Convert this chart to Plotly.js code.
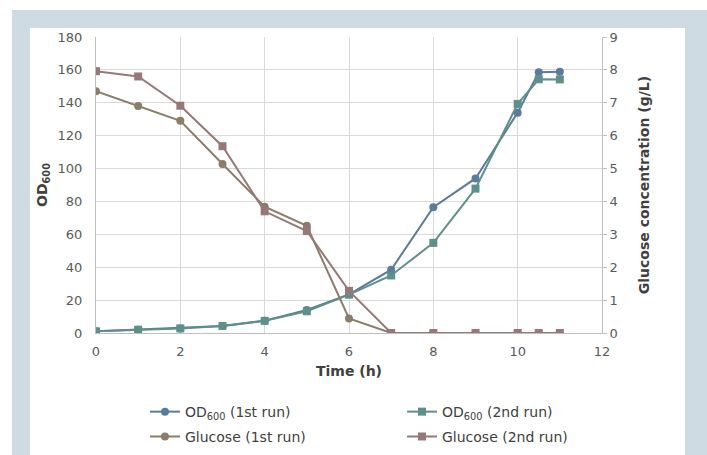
<!DOCTYPE html>
<html>
<head>
<meta charset="utf-8">
<script src="https://cdn.plot.ly/plotly-3.0.1.min.js"></script>
<style>
  html, body { margin: 0; padding: 0; background: #ffffff; }
  #frame { position: absolute; left: 12px; top: 10px; width: 695px; height: 445px; background: #cfdbe3; }
  #inner { position: absolute; left: 30px; top: 28px; width: 655px; height: 427px; background: #ffffff; }
  #chart { position: absolute; left: 0; top: 0; width: 707px; height: 455px; }
</style>
</head>
<body>
<div id="frame"></div>
<div id="inner"></div>
<div id="chart"></div>
<script>
// Time points (h)
const time = [0, 1, 2, 3, 4, 5, 6, 7, 8, 9, 10, 10.5, 11];
// OD600 values
const od1st = [1, 2, 2.8, 4.2, 7.5, 14, 23.5, 38.5, 76.5, 94, 134, 158.5, 158.8];
const od2nd = [1, 2, 2.8, 4.3, 7.4, 13.2, 23.3, 35, 54.8, 87.8, 139.3, 154.3, 154.2];
// Glucose concentration (g/L)
const glc1st = [7.35, 6.9, 6.45, 5.14, 3.84, 3.26, 0.44, 0, 0, 0, 0, 0, 0];
const glc2nd = [7.96, 7.8, 6.91, 5.68, 3.7, 3.1, 1.28, 0, 0, 0, 0, 0, 0];

const names = ['OD<sub>600</sub> (1st run)', 'OD<sub>600</sub> (2nd run)', 'Glucose (1st run)', 'Glucose (2nd run)'];
const leftTicks = [0, 20, 40, 60, 80, 100, 120, 140, 160, 180];
const rightTicks = [0, 1, 2, 3, 4, 5, 6, 7, 8, 9];
const xTicks = [0, 2, 4, 6, 8, 10, 12];

const FONT = 'DejaVu Sans, Verdana, sans-serif';

const traces = [
  {x: time, y: od1st, name: names[0], yaxis: 'y', mode: 'lines+markers', legend: 'legend',
   line: {color: '#5b7b9b', width: 2}, marker: {symbol: 'circle', size: 8, color: '#5b7b9b'}},
  {x: time, y: od2nd, name: names[1], yaxis: 'y', mode: 'lines+markers', legend: 'legend2',
   line: {color: '#5f8f8b', width: 2}, marker: {symbol: 'square', size: 8, color: '#5f8f8b'}},
  {x: time, y: glc1st, name: names[2], yaxis: 'y2', mode: 'lines+markers', legend: 'legend3',
   line: {color: '#8b7d68', width: 2}, marker: {symbol: 'circle', size: 8, color: '#8b7d68'}},
  {x: time, y: glc2nd, name: names[3], yaxis: 'y2', mode: 'lines+markers', legend: 'legend4',
   line: {color: '#977878', width: 2}, marker: {symbol: 'square', size: 8, color: '#977878'}}
];

function leg(x, y) {
  return {
    orientation: 'v', x: x, xanchor: 'left', y: y, yanchor: 'middle',
    font: {family: FONT, size: 14, color: '#404040'},
    bgcolor: 'rgba(0,0,0,0)', borderwidth: 0, itemwidth: 30
  };
}

const layout = {
  width: 707, height: 455,
  paper_bgcolor: 'rgba(0,0,0,0)',
  plot_bgcolor: 'rgba(0,0,0,0)',
  margin: {l: 96, r: 105, t: 37, b: 122, autoexpand: false},
  font: {family: FONT, size: 13, color: '#595959'},
  showlegend: true,
  xaxis: {
    range: [0, 12], tickvals: xTicks, ticktext: xTicks.map(String),
    showgrid: true, gridcolor: '#d9d9d9', gridwidth: 1,
    showline: true, linecolor: '#bfbfbf', linewidth: 1,
    zeroline: false, ticks: 'outside', ticklen: 6, tickcolor: 'rgba(0,0,0,0)',
    tickfont: {family: FONT, size: 13, color: '#595959'},
    title: {text: 'Time (h)', font: {family: FONT, size: 14, color: '#404040', weight: 'bold'}, standoff: 8}
  },
  yaxis: {
    range: [0, 180], tickvals: leftTicks, ticktext: leftTicks.map(String),
    showgrid: true, gridcolor: '#d9d9d9', gridwidth: 1,
    showline: true, linecolor: '#bfbfbf', linewidth: 1,
    zeroline: false, ticks: 'outside', ticklen: 10, tickcolor: 'rgba(0,0,0,0)',
    tickfont: {family: FONT, size: 13, color: '#595959'},
    title: {text: '<b>OD<sub>600</sub></b>', font: {family: FONT, size: 14, color: '#404040'}, standoff: 6}
  },
  yaxis2: {
    range: [0, 9], tickvals: rightTicks, ticktext: rightTicks.map(String),
    overlaying: 'y', side: 'right', showgrid: false,
    showline: true, linecolor: '#bfbfbf', linewidth: 1,
    zeroline: false, ticks: 'outside', ticklen: 4, tickcolor: '#bfbfbf',
    tickfont: {family: FONT, size: 13, color: '#595959'},
    title: {text: 'Glucose concentration (g/L)', font: {family: FONT, size: 14, color: '#404040', weight: 'bold'}, standoff: 22}
  },
  legend: leg(0.0968, -0.267),
  legend2: leg(0.6047, -0.267),
  legend3: leg(0.0968, -0.351),
  legend4: leg(0.6047, -0.351)
};

Plotly.newPlot('chart', traces, layout, {displayModeBar: false, staticPlot: true});
</script>
</body>
</html>
